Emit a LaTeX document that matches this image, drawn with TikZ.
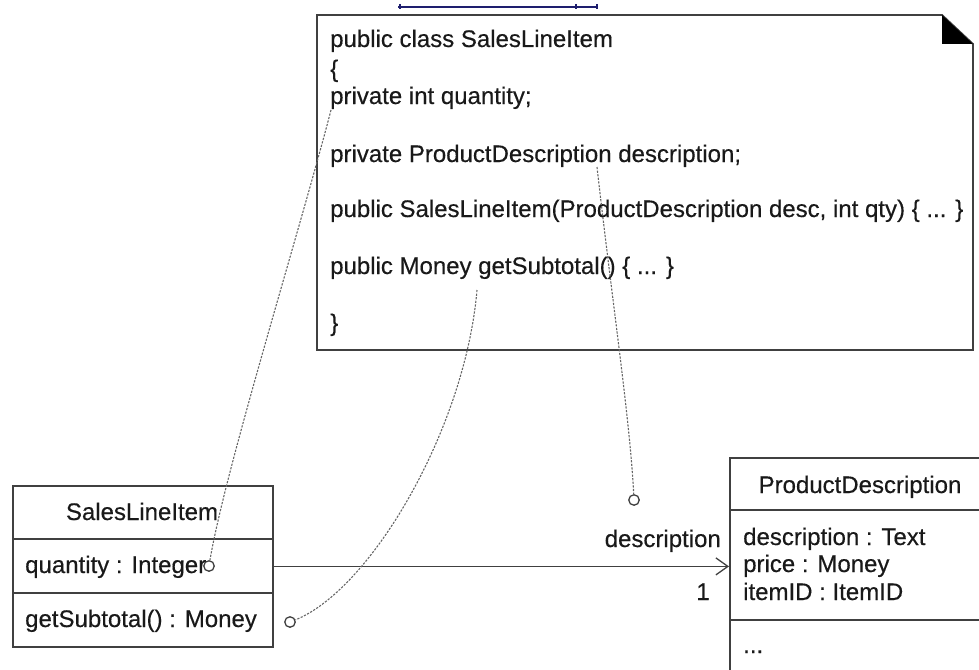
\documentclass[tikz,border=0pt]{standalone}
\usepackage{fontspec}
\setmainfont[FakeBold=0.4]{Liberation Sans}
\usetikzlibrary{arrows.meta}
\begin{document}
\begin{tikzpicture}[x=1pt,y=-1pt,
  box/.style={draw=black!75, line width=1.8pt},
  txt/.style={anchor=base west, inner sep=0pt, font=\fontsize{24}{27}\selectfont, text=black!90},
  ctxt/.style={anchor=base, inner sep=0pt, font=\fontsize{24}{27}\selectfont, text=black!90},
  dotl/.style={draw=black!60, line width=1.1pt, dash pattern=on 2.2pt off 1.4pt},
  port/.style={circle, draw=black!75, fill=white, line width=1.3pt, minimum size=10.5pt, inner sep=0pt}]
\useasboundingbox (0,0) rectangle (979,669);
\clip (0,0) rectangle (979,669);

% stray blue mark at top
\draw[draw={rgb,255:red,30;green,30;blue,110}, line width=1.6pt] (398,7) -- (598,7);
\draw[draw={rgb,255:red,30;green,30;blue,110}, line width=1.6pt] (400,4) -- (400,9) (576,4) -- (576,9) (597,4) -- (597,9);

% note
\draw[box] (317,15) -- (942,15) -- (973,44) -- (973,350) -- (317,350) -- cycle;
\fill[black] (942,15) -- (942,44) -- (973,44) -- cycle;
\node[txt] (n1) at (330,47) {public class SalesLineItem};
\node[txt] (n2) at (330,77) {\{};
\node[txt] (n3) at (330,104) {private int quantity;};
\node[txt] (n4) at (330,162) {private ProductDescription description;};
\node[txt] (n5) at (330,217) {public SalesLineItem(ProductDescription desc, int qty) \{ ... \}};
\node[txt] (n6) at (330,274) {public Money getSubtotal() \{ ... \}};
\node[txt] (n7) at (330,331) {\}};

% SalesLineItem class
\node[box, anchor=north west, minimum width=260pt, minimum height=161pt, inner sep=0pt] (sli) at (12,485) {};
\draw[box] (12,539) -- (272,539);
\draw[box] (12,593) -- (272,593);
\node[ctxt] (slin) at (142,520) {SalesLineItem};
\node[txt] (sliq) at (25,573) {quantity : Integer};
\node[txt] (slis) at (25,627) {getSubtotal() : Money};

% ProductDescription class
\node[box, anchor=north west, minimum width=300pt, minimum height=260pt, inner sep=0pt] (pd) at (729,457) {};
\draw[box] (729,510) -- (1030,510);
\draw[box] (729,620) -- (1030,620);
\node[ctxt] (pdn) at (860,493) {ProductDescription};
\node[txt] (pd1) at (743,545) {description : Text};
\node[txt] (pd2) at (743,572) {price : Money};
\node[txt] (pd3) at (743,600) {itemID : ItemID};
\node[txt] (pd4) at (743,653) {...};

% association
\draw[draw=black!75, line width=1.8pt, -{Straight Barb[length=12pt,width=17pt,line width=1.3pt]}] (sli.east) -- (pd.west |- sli.east);
\node[txt, anchor=base east] (role) at (721,547) {description};
\node[ctxt] (mult) at (703,600) {1};

% ports
\node[port] (c1) at (209,566) {};
\node[port] (c2) at (290,622) {};
\node[port] (c3) at (634,500) {};
\coordinate (s1) at (331,110);
\coordinate (s2) at (477,290);
\coordinate (s3) at (597,167);
\draw[dotl] (s1) .. controls (300,230) and (225,470) .. (c1);
\draw[dotl] (s2) .. controls (465,430) and (370,590) .. (c2);
\draw[dotl] (s3) .. controls (612,300) and (630,420) .. (c3);
\end{tikzpicture}
\end{document}
